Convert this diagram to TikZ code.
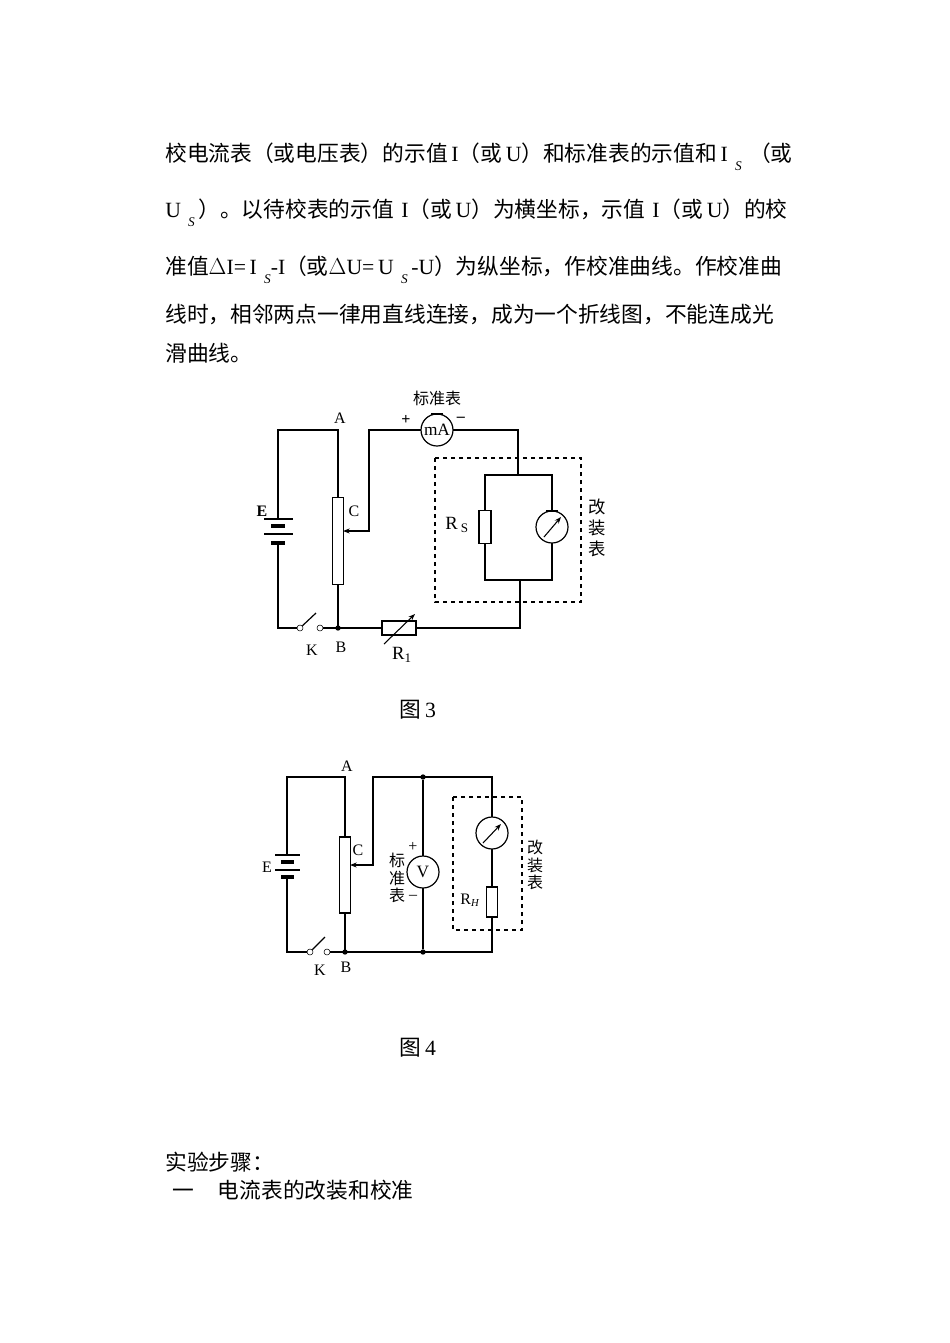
\documentclass[tikz,border=0pt]{standalone}
\usepackage{fontspec}
\setmainfont{Liberation Serif}
\newfontfamily\cjk{Noto Sans CJK SC}
\usetikzlibrary{arrows.meta}
\newcommand{\sub}[1]{\raisebox{-0.9ex}{\fontsize{10}{10}\selectfont\itshape #1}}
\begin{document}
\begin{tikzpicture}[x=0.75pt,y=-0.75pt,
  wire/.style={line width=0.9pt},
  body/.style={font=\fontsize{16.3}{18}\selectfont,anchor=west,inner sep=0},
  lab/.style={font=\fontsize{12}{13}\selectfont,inner sep=0},
  res/.style={draw,fill=white,line width=0.9pt,minimum width=#1*0.75,inner sep=0},
  meter/.style={draw,circle,fill=white,line width=0.9pt,minimum size=24,inner sep=0},
  box/.style={draw,dashed,line width=0.9pt},
  dot/.style={circle,fill,inner sep=0,minimum size=4}]
\useasboundingbox (0,0) rectangle (950,1343);
% text
\node[body] (t1) at (165,157) {{\cjk 校电流表（或电压表）的示值}\,I{\cjk（或}\,U{\cjk）和标准表的示值和}\,I\,\,\sub{S}\,\,{\cjk（或}};
\node[body] (t2) at (165,213) {U\,\,\sub{S}\,{\cjk）。以待校表的示值}\,\,I{\cjk（或}\,U{\cjk）为横坐标，示值}\,\,I{\cjk（或}\,U{\cjk）的校}};
\node[body] (t3) at (165,270) {{\cjk 准值}$\Delta$I=\,I\,\,\sub{S}-I{\cjk（或}$\Delta$U=\,U\,\,\sub{S}\,-U{\cjk）为纵坐标，作校准曲线。作校准曲}};
\node[body] (t4) at (165,315) {\cjk 线时，相邻两点一律用直线连接，成为一个折线图，不能连成光};
\node[body] (t5) at (165,353) {\cjk 滑曲线。};
\node[body] (t6) at (165,1162) {\cjk 实验步骤：};
\node[body] (t7) at (172,1190) {\cjk 一\hspace{1.1em}电流表的改装和校准};
\node[body,anchor=center] (f3) at (418,710) {{\cjk 图}\,3};
\node[body,anchor=center] (f4) at (418,1048) {{\cjk 图}\,4};

% ===== Figure 3 =====
\coordinate (a3) at (338,430);
\coordinate (b3) at (338,628);
\draw[wire] (278,519) -- (278,430) -- (a3) -- (b3);
\draw[line width=1pt] (264,519) -- (293,519) (264,534) -- (293,534);
\draw[line width=2.4pt] (271,526) -- (285,526) (271,543) -- (285,543);
\draw[wire] (278,543) -- (278,628) -- (300,628);
\node[circle,draw,fill=white,inner sep=0,minimum size=4.5] (k1) at (300,628) {};
\node[circle,draw,fill=white,inner sep=0,minimum size=4.5] (k2) at (320,628) {};
\draw[wire] (k1) -- (316,613);
\draw[wire] (k2) -- (b3);
\node[res=11,minimum height=87*0.75] (rh3) at (338,541) {};
\node[dot] (B3) at (b3) {};
\draw[wire] (b3) -- (520,628) -- (520,580) -- (485,580) -- (485,475) -- (552,475) -- (552,580) -- (520,580);
\draw[wire] (518,475) -- (518,430) -- (369,430) -- (369,531) -- (345,531);
\draw[-{Stealth[length=5pt]},line width=0.8pt] (350,531) -- (343,531);
\node[res=34,minimum height=14*0.75] (r1) at (399,628) {};
\draw[line width=0.8pt,-{Stealth[length=5pt]}] (384,644) -- (415,614);
\node[meter] (mA) at (437,430) {\fontsize{13}{13}\selectfont mA};
\draw[line width=2pt] (431,414) -- (443,414);
\node[res=12,minimum height=33*0.75] (rs) at (485,527) {};
\node[meter] (g3) at (552,527) {};
\draw[line width=2pt] (546,511) -- (558,511);
\draw[line width=0.8pt,-{Stealth[length=5pt]}] (544,537) -- (561,517);
\draw[box] (435,458) rectangle (581,602);
\node[lab,font=\cjk\fontsize{12}{13}\selectfont] (std3) at (437,398) {标准表};
\node[lab] (p3) at (406,420) {\textbf{+}};
\node[lab] (m3) at (461,419) {\textbf{–}};
\node[lab] (A3) at (340,418) {A};
\node[lab] (C3) at (354,511) {C};
\node[lab] (E3) at (262,511) {\textbf{E}};
\node[lab] (K3) at (312,650) {K};
\node[lab] (Bl3) at (341,647) {B};
\node[lab] (R13) at (402,655) {\fontsize{14}{14}\selectfont R\textsubscript{1}};
\node[lab] (Rs3) at (457,525) {\fontsize{14}{14}\selectfont R\,\textsubscript{S}};
\node[lab,font=\cjk\fontsize{13}{15}\selectfont,align=center] (gz3) at (597,528) {改\\[1pt]装\\[1pt]表};

% ===== Figure 4 =====
\coordinate (a4) at (345,777);
\coordinate (b4) at (345,952);
\draw[wire] (287,855) -- (287,777) -- (a4) -- (b4);
\draw[line width=1pt] (275,855) -- (300,855) (275,870) -- (300,870);
\draw[line width=2.4pt] (281,862) -- (294,862) (281,877) -- (294,877);
\draw[wire] (287,877) -- (287,952) -- (310,952);
\node[circle,draw,fill=white,inner sep=0,minimum size=4.5] (k3) at (310,952) {};
\node[circle,draw,fill=white,inner sep=0,minimum size=4.5] (k4) at (327,952) {};
\draw[wire] (k3) -- (325,937);
\draw[wire] (k4) -- (b4) -- (492,952) -- (492,777) -- (373,777) -- (373,865) -- (352,865);
\draw[-{Stealth[length=5pt]},line width=0.8pt] (356,865) -- (350,865);
\node[res=11,minimum height=76*0.75] (rh4) at (345,875) {};
\node[dot] (B4) at (b4) {};
\node[dot] (d1) at (423,777) {};
\node[dot] (d2) at (423,952) {};
\draw[wire] (d1) -- (d2);
\node[meter] (V) at (423,872) {\fontsize{13}{13}\selectfont V};
\node[meter] (g4) at (492,833) {};
\draw[line width=0.8pt,-{Stealth[length=5pt]}] (483,843) -- (501,824);
\node[res=11,minimum height=30*0.75] (rh) at (492,902) {};
\draw[box] (453,797) rectangle (522,930);
\node[lab] (A4) at (347,766) {A};
\node[lab] (C4) at (358,850) {C};
\node[lab] (E4) at (267,867) {E};
\node[lab] (K4) at (320,970) {K};
\node[lab] (Bl4) at (346,967) {B};
\node[lab] (p4) at (413,847) {+};
\node[lab] (m4) at (413,897) {–};
\node[lab,font=\cjk\fontsize{12}{13}\selectfont,align=center] (std4) at (397,878) {标\\准\\表};
\node[lab] (RH) at (470,900) {R\textsubscript{\itshape H}};
\node[lab,font=\cjk\fontsize{12}{13}\selectfont,align=center] (gz4) at (535,865) {改\\装\\表};
\end{tikzpicture}
\end{document}
